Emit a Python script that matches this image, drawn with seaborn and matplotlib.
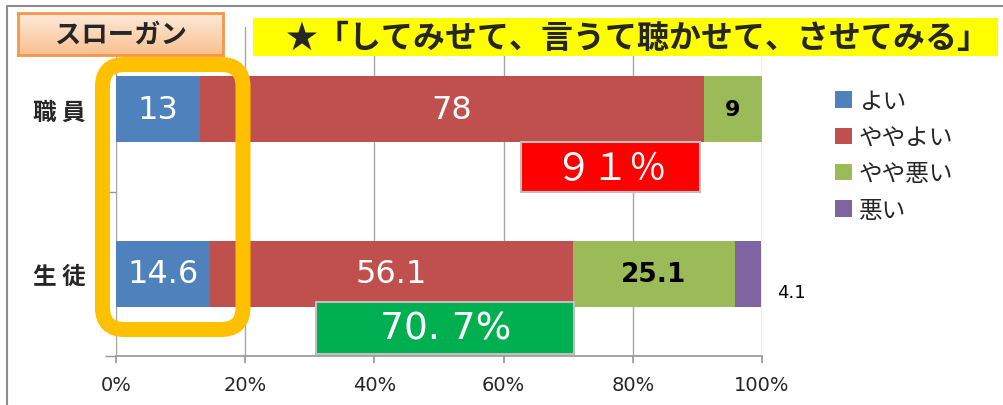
import numpy as np
import matplotlib
matplotlib.use("Agg")
import matplotlib.pyplot as plt
import seaborn as sns
from matplotlib.patches import Rectangle, FancyBboxPatch
from matplotlib.lines import Line2D
from matplotlib.transforms import IdentityTransform
from matplotlib.colors import LinearSegmentedColormap

# data
groups = ['職員', '生徒']
series_names = ['よい', 'ややよい', 'やや悪い', '悪い']
good = [13, 14.6]
fair = [78, 56.1]
poor = [9, 25.1]
bad = [0, 4.1]
x_ticks = [0, 20, 40, 60, 80, 100]
x_ticklabels = ['0%', '20%', '40%', '60%', '80%', '100%']
slogan_tag = 'スローガン'
slogan = '★「してみせて、言うて聴かせて、させてみる」'

colors = ['#4F81BD', '#C0504D', '#9BBB59', '#8064A2']

sns.set_theme(style='white')
plt.rcParams['font.family'] = ['Noto Sans CJK JP', 'DejaVu Sans']

W, H = 1004, 406
fig = plt.figure(figsize=(W / 100, H / 100), dpi=100)
ax = fig.add_axes([116 / W, 1 - 357 / H, 646 / W, 329 / H])

values = np.array([good, fair, poor, bad])
cum = values.cumsum(axis=0)

# stacked bars: draw the longest cumulative first
for i in reversed(range(len(series_names))):
    sns.barplot(x=cum[i], y=groups, color=colors[i], saturation=1, width=0.4,
                linewidth=0, label=series_names[i], orient='h', ax=ax, zorder=3)

ax.set_xlim(0, 100)
ax.set_ylim(1.5, -0.5)
ax.set_xticks(x_ticks)
ax.set_xticklabels(x_ticklabels, fontsize=14, family=['DejaVu Sans'])
ax.set_yticks([0, 1])
ax.set_yticklabels([' '.join(g) for g in groups], fontsize=17, fontweight='bold')
ax.set_ylabel('')
ax.set_xlabel('')
ax.tick_params(axis='x', bottom=True, length=5, color='#999999', pad=9)
ax.tick_params(axis='y', left=False, pad=16)
ax.set_yticks([0.5, 1.5], minor=True)
ax.tick_params(axis='y', which='minor', left=True, length=8, color='#999999')
ax.grid(axis='x', color='#A6A6A6', linewidth=1, zorder=0)
ax.grid(axis='y', visible=False)
for s in ['top', 'right', 'left']:
    ax.spines[s].set_visible(False)
ax.spines['bottom'].set_color('#999999')

# value labels
for i in range(len(series_names)):
    for j in range(len(groups)):
        v = values[i, j]
        if v == 0:
            continue
        xc = cum[i, j] - v / 2
        if i < 2:
            ax.text(xc, j, f'{v:g}', color='white', fontsize=23, ha='center', va='center',
                    family=['DejaVu Sans'], zorder=5)
        elif i == 2:
            ax.text(xc, j, f'{v:g}', color='black', fontsize=16 if j == 0 else 19,
                    fontweight='bold', ha='center', va='center', zorder=5,
                    family=['DejaVu Sans'])
        else:
            ax.text(102.3, j + 0.11, f'{v:g}', color='black', fontsize=13, ha='left',
                    va='center', clip_on=False, family=['DejaVu Sans'])

# positive share boxes
pos_top = good[0] + fair[0]
pos_bot = good[1] + fair[1]
ax.add_patch(Rectangle((62.7, 0.198), 27.7, 0.305, facecolor='#FF0000',
                       edgecolor='#BFBFBF', linewidth=1.5, zorder=6, clip_on=False))
top_txt = f'{pos_top:g}％'.translate(str.maketrans('0123456789', '０１２３４５６７８９'))
ax.text(76.5, 0.355, top_txt, color='white', fontsize=27, ha='center', va='center', zorder=7)
ax.add_patch(Rectangle((31.0, 1.174), 39.9, 0.311, facecolor='#00B050',
                       edgecolor='#BFBFBF', linewidth=1.5, zorder=6, clip_on=False))
ax.text(51, 1.335, f'{pos_bot:.1f}%'.replace('.', '. '), color='white', fontsize=27,
        ha='center', va='center', zorder=7, family=['DejaVu Sans'])

# legend
handles, labels = ax.get_legend_handles_labels()
ax.legend(handles[::-1], labels[::-1], loc='upper left',
          bbox_to_anchor=(835 / W, 1 - 91 / H), bbox_transform=fig.transFigure,
          frameon=False, fontsize=17, handlelength=0.7, handleheight=0.7,
          handletextpad=0.3, labelspacing=0.56, borderpad=0, borderaxespad=0)

# orange highlight frame
fig.add_artist(FancyBboxPatch((102.5, H - 330.5), 140.5, 265,
                              boxstyle='round,pad=0,rounding_size=22',
                              transform=IdentityTransform(), fill=False,
                              edgecolor='#FFC000', linewidth=10.8, zorder=10))

# slogan tag with gradient
sax = fig.add_axes([18 / W, 1 - 56 / H, 205 / W, 42 / H])
grad = np.linspace(0, 1, 64).reshape(-1, 1)
cmap = LinearSegmentedColormap.from_list('peach', ['#FDEADA', '#FAC090'])
sax.imshow(grad, aspect='auto', cmap=cmap, extent=[0, 1, 0, 1], origin='upper')
sax.set_xticks([])
sax.set_yticks([])
for s in sax.spines.values():
    s.set_color('#F79646')
    s.set_linewidth(2)
sax.text(0.5, 0.5, slogan_tag, fontsize=19, fontweight='bold', ha='center', va='center',
         transform=sax.transAxes)

# yellow slogan
fig.add_artist(Rectangle((253 / W, 1 - 57 / H), 745 / W, 38 / H, facecolor='#FFFF00',
                         edgecolor='none', transform=fig.transFigure, zorder=4))
fig.text(638 / W, 1 - 39 / H, slogan, fontsize=23, fontweight='bold', ha='center',
         va='center', zorder=5)

# outer frame (left and top edges only)
fig.add_artist(Line2D([7 / W, 7 / W, 1], [0, 1 - 7 / H, 1 - 7 / H], color='#8C8C8C',
                      linewidth=1.5, transform=fig.transFigure, zorder=1))

fig.savefig('out.png', dpi=100)
